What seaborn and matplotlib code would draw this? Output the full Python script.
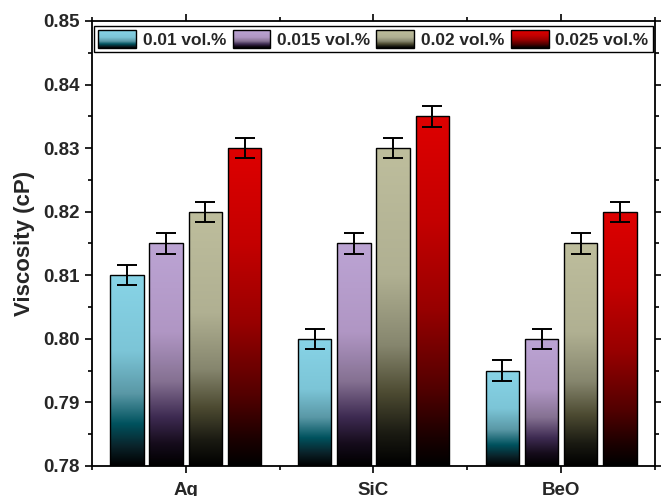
import numpy as np
import pandas as pd
import matplotlib
matplotlib.use("Agg")
import matplotlib.pyplot as plt
import seaborn as sns
from matplotlib.colors import LinearSegmentedColormap
from matplotlib.legend_handler import HandlerBase
from matplotlib.image import BboxImage
from matplotlib.transforms import Bbox, TransformedBbox
from matplotlib.patches import Rectangle
from matplotlib.ticker import MultipleLocator, FixedLocator, FormatStrFormatter

# ---- data ----
materials = ["Ag", "SiC", "BeO"]
concentrations = ["0.01 vol.%", "0.015 vol.%", "0.02 vol.%", "0.025 vol.%"]
visc_001 = [0.810, 0.800, 0.795]
visc_0015 = [0.815, 0.815, 0.800]
visc_002 = [0.820, 0.830, 0.815]
visc_0025 = [0.830, 0.835, 0.820]
err_001 = [0.0016, 0.0016, 0.0016]
err_0015 = [0.0016, 0.0016, 0.0016]
err_002 = [0.0016, 0.0016, 0.0016]
err_0025 = [0.0016, 0.0016, 0.0016]

series = [visc_001, visc_0015, visc_002, visc_0025]
errors = [err_001, err_0015, err_002, err_0025]

# vertical colour ramps (top of bar -> bottom of bar)
ramps = [
    [(0.0, "#88d4e7"), (0.40, "#7cc5d7"), (0.62, "#5a98a6"), (0.78, "#00525e"), (0.90, "#0a2229"), (1.0, "#000000")],
    [(0.0, "#bca4d4"), (0.40, "#b096c4"), (0.62, "#857192"), (0.78, "#3e2b52"), (0.90, "#160c1c"), (1.0, "#000000")],
    [(0.0, "#bebe9d"), (0.40, "#b0b092"), (0.62, "#86866e"), (0.77, "#4d4b32"), (0.90, "#1a1a12"), (1.0, "#000000")],
    [(0.0, "#de0000"), (0.30, "#c40000"), (0.55, "#980000"), (0.78, "#520000"), (0.92, "#1a0000"), (1.0, "#000000")],
]
cmaps = [LinearSegmentedColormap.from_list(f"ramp{i}", r) for i, r in enumerate(ramps)]

df = pd.DataFrame({
    "material": materials * len(concentrations),
    "concentration": [c for c in concentrations for _ in materials],
    "viscosity": [v for s in series for v in s],
})

sns.set_style("ticks")
plt.rcParams["font.family"] = ["Liberation Sans", "DejaVu Sans"]
plt.rcParams["font.weight"] = "bold"

fig = plt.figure(figsize=(6.61, 4.96), dpi=100)
ax = fig.add_axes([0.139, 0.0605, 0.852, 0.8972])

group_width = 0.836
sns.barplot(data=df, x="material", y="viscosity", hue="concentration",
            order=materials, hue_order=concentrations,
            width=group_width, gap=0.15, errorbar=None,
            edgecolor="black", linewidth=1.0, legend=False, ax=ax)

ymin, ymax = 0.78, 0.85
grad = np.linspace(0, 1, 256).reshape(-1, 1)
slot = group_width / len(concentrations)

bars = [p for p in ax.patches if isinstance(p, Rectangle) and p.get_width() < 0.5]
for bar in bars:
    x0 = bar.get_x()
    w = bar.get_width()
    cx = x0 + w / 2
    j = int(round(cx))
    i = int(round((cx - j + group_width / 2 - slot / 2) / slot))
    top = bar.get_y() + bar.get_height()
    bar.set_facecolor("none")
    bar.set_zorder(2)
    im = ax.imshow(grad, extent=[x0, x0 + w, ymin, top], aspect="auto",
                   cmap=cmaps[i], origin="upper", interpolation="bilinear",
                   zorder=1.5)
    im.set_clip_path(bar)
    ax.errorbar(cx, top, yerr=errors[i][j], fmt="none",
                ecolor="black", elinewidth=1.4, capsize=7, capthick=1.4,
                zorder=3)

ax.set_xlim(-0.5, 2.5)
ax.set_ylim(ymin, ymax)
ax.set_aspect("auto")

ax.yaxis.set_major_locator(MultipleLocator(0.01))
ax.yaxis.set_minor_locator(MultipleLocator(0.005))
ax.yaxis.set_major_formatter(FormatStrFormatter("%.2f"))
ax.xaxis.set_minor_locator(FixedLocator([-0.5, 0.5, 1.5, 2.5]))

ax.set_xlabel("")
ax.set_ylabel("Viscosity (cP)", fontsize=16, fontweight="bold", labelpad=6)

for side in ["left", "right", "top", "bottom"]:
    ax.spines[side].set_visible(True)
    ax.spines[side].set_linewidth(1.3)
    ax.spines[side].set_color("black")

ax.tick_params(which="both", direction="out", top=True, right=True,
               color="black", width=1.2)
ax.tick_params(which="major", length=5, labelsize=13.5, pad=4)
ax.tick_params(which="minor", length=3)
ax.tick_params(axis="x", which="major", pad=6.5)
for lab in ax.get_xticklabels() + ax.get_yticklabels():
    lab.set_fontweight("bold")


class GradientSwatch(Rectangle):
    def __init__(self, cmap):
        super().__init__((0, 0), 1, 1)
        self.ramp = cmap


class GradientHandler(HandlerBase):
    def create_artists(self, legend, orig_handle, xdescent, ydescent,
                       width, height, fontsize, trans):
        bb = TransformedBbox(Bbox.from_bounds(-xdescent, -ydescent, width, height), trans)
        img = BboxImage(bb, cmap=orig_handle.ramp, interpolation="bilinear")
        img.set_data(grad)
        frame = Rectangle((-xdescent, -ydescent), width, height, facecolor="none",
                          edgecolor="black", linewidth=1.0, transform=trans)
        return [img, frame]


handles = [GradientSwatch(c) for c in cmaps]
leg = ax.legend(handles, concentrations, loc="upper center", ncol=4,
                handler_map={GradientSwatch: GradientHandler()},
                prop={"weight": "bold", "size": 12.4},
                frameon=True, fancybox=False, framealpha=1, edgecolor="black",
                handlelength=2.2, handleheight=1.15, handletextpad=0.4,
                columnspacing=0.35, borderpad=0.25, borderaxespad=0.3)
leg.get_frame().set_linewidth(1.0)

fig.savefig("out.png", dpi=100)
